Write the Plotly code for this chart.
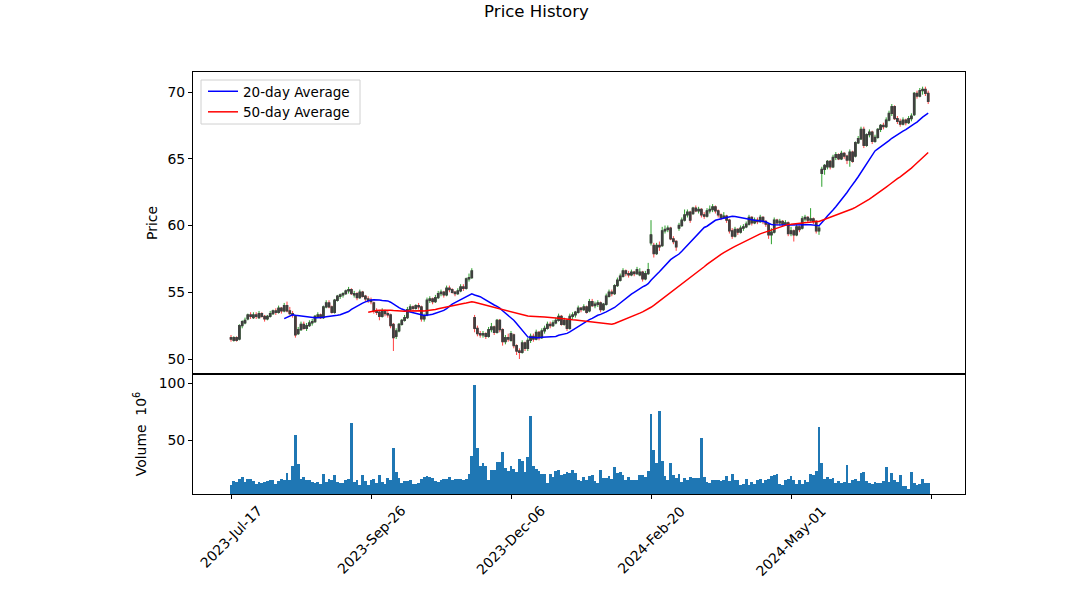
import pandas as pd
import plotly.graph_objects as go

# ---------------- data ----------------
opens = [51.6,51.4,51.6,51.5,52.5,52.7,53.0,53.3,53.1,53.3,53.1,53.4,53.2,53.0,53.2,53.4,53.6,53.5,53.8,53.6,
54.0,53.6,53.4,53.2,51.9,52.2,52.6,52.3,52.5,52.7,52.8,53.2,53.3,53.1,53.9,54.2,53.9,53.5,54.4,54.7,
54.8,54.9,55.1,55.2,54.8,54.9,54.6,55.0,54.7,54.5,54.4,54.2,53.6,53.5,53.2,53.6,53.4,53.3,52.6,51.7,
52.1,52.6,52.9,53.1,53.7,53.9,53.8,54.0,53.9,53.0,53.3,54.4,54.5,54.3,54.6,54.9,55.0,54.8,55.3,55.2,
55.0,54.9,55.1,55.4,55.3,56.0,56.1,53.1,52.3,51.9,51.8,51.9,51.7,52.2,52.4,52.0,52.9,52.2,51.3,51.6,
51.4,51.8,51.0,50.6,50.5,51.2,50.8,51.4,51.7,51.5,52.0,51.6,52.1,52.3,52.6,52.5,52.7,52.9,53.2,52.6,
52.9,52.3,53.2,53.3,53.5,53.8,53.7,53.9,53.6,54.3,54.0,54.1,54.2,53.7,54.1,54.7,55.0,54.9,55.5,55.9,
56.2,56.6,56.4,56.3,56.5,56.4,56.3,56.5,56.0,56.4,58.7,58.5,57.9,58.5,58.5,59.6,59.7,59.8,59.0,58.8,
59.8,60.0,60.4,60.8,61.0,60.9,61.3,61.1,61.2,60.8,60.7,61.1,61.2,61.4,61.1,60.8,60.6,60.7,60.4,59.6,
59.2,59.7,59.5,59.8,59.9,60.1,60.6,60.2,60.4,60.3,60.6,60.3,60.1,59.3,59.5,60.4,60.2,60.3,60.1,60.2,
59.4,59.6,59.3,59.9,59.8,60.5,60.6,60.4,60.5,60.3,59.6,63.9,64.2,64.4,64.8,64.4,65.1,65.3,65.0,65.4,
65.2,64.9,65.5,65.2,66.2,66.5,67.2,66.0,66.8,67.0,66.3,66.6,67.2,67.5,67.4,67.9,68.4,68.9,68.0,67.8,
67.6,67.9,67.7,68.0,68.3,69.9,69.7,70.1,70.2,69.9]

highs = [51.8,51.7,51.7,52.6,52.9,53.1,53.4,53.5,53.5,53.5,53.6,53.5,53.3,53.3,53.6,53.7,53.8,54.0,53.9,54.2,
54.3,53.9,53.6,53.3,52.4,52.8,52.8,52.7,52.9,53.0,53.3,53.5,53.4,54.0,54.4,54.4,54.0,54.5,54.8,54.9,
55.0,55.2,55.4,55.3,55.1,55.0,55.2,55.1,54.8,54.7,54.6,54.3,53.8,53.6,53.8,53.7,53.6,53.4,52.7,52.3,
52.7,53.0,53.3,53.9,54.1,54.0,54.1,54.2,54.0,53.4,54.6,54.7,54.6,54.8,55.1,55.2,55.1,55.5,55.5,55.3,
55.1,55.3,55.6,55.6,56.1,56.4,56.8,53.3,52.5,52.1,52.1,52.0,52.4,52.7,52.5,53.0,53.0,52.3,51.8,51.9,
52.1,51.9,51.1,50.8,51.4,51.3,51.6,51.9,51.9,52.2,52.1,52.3,52.5,52.8,52.8,52.9,53.1,53.4,53.3,53.1,
53.0,53.4,53.5,53.6,54.0,53.9,54.1,54.0,54.5,54.5,54.3,54.4,54.3,54.2,54.9,55.2,55.2,55.6,56.1,56.4,
56.8,56.7,56.6,56.7,56.6,56.9,56.8,56.6,56.6,57.2,60.4,58.7,58.7,58.8,59.9,60.0,60.0,59.9,59.2,58.9,
60.2,60.6,61.2,61.2,61.1,61.4,61.5,61.4,61.3,61.0,61.3,61.5,61.6,61.5,61.2,60.9,61.0,60.8,60.5,59.8,
59.9,59.8,60.0,60.1,60.3,60.8,60.7,60.6,60.6,60.8,60.7,60.4,60.2,59.8,60.6,60.5,60.5,60.4,60.4,60.3,
59.9,59.7,60.1,60.0,60.7,60.8,60.7,61.3,60.6,60.4,60.0,64.4,64.6,64.9,64.9,65.3,65.5,65.4,65.6,65.5,
65.3,65.7,65.6,66.3,66.7,67.4,67.4,66.9,67.2,67.1,66.8,67.3,67.6,67.7,68.1,68.6,69.1,69.0,68.2,68.0,
68.1,68.0,68.2,68.4,70.0,70.1,70.3,70.4,70.4,70.1]

lows = [51.3,51.3,51.3,51.4,52.3,52.6,52.9,53.0,53.0,53.0,53.0,53.1,52.8,52.9,53.1,53.3,53.3,53.4,53.4,53.5,
53.5,53.3,53.1,51.6,51.8,52.1,52.2,52.1,52.4,52.5,52.7,53.1,53.0,53.0,53.8,53.8,53.4,53.4,54.3,54.5,
54.6,54.8,54.9,54.8,54.6,54.4,54.5,54.6,54.3,54.2,54.1,53.4,53.3,52.9,53.1,53.2,53.1,52.3,50.6,51.5,
52.0,52.5,52.8,53.0,53.6,53.6,53.7,53.7,52.8,52.8,53.2,54.2,54.1,54.2,54.5,54.7,54.6,54.7,55.0,54.9,
54.7,54.8,55.0,55.1,55.2,55.8,56.0,52.0,51.7,51.6,51.6,51.5,51.6,52.0,51.8,51.9,52.0,51.0,51.1,51.3,
51.3,50.8,50.3,50.0,50.4,50.6,50.6,51.2,51.3,51.4,51.4,51.5,51.9,52.2,52.3,52.4,52.6,52.8,52.5,52.5,
52.1,52.2,53.0,53.1,53.4,53.5,53.6,53.4,53.5,53.9,53.8,53.9,53.5,53.6,54.0,54.6,54.7,54.8,55.4,55.8,
56.1,56.2,56.1,56.2,56.2,56.3,56.2,55.8,55.9,56.3,58.5,57.6,57.8,58.1,58.4,59.4,59.5,58.9,58.6,58.1,
59.6,59.9,60.3,60.6,60.2,60.8,61.0,60.9,60.6,60.5,60.6,60.9,61.0,60.9,60.6,60.4,60.5,60.2,59.4,59.0,
59.1,59.3,59.4,59.6,59.8,60.0,60.0,60.1,60.1,60.2,60.1,59.9,59.0,58.6,59.4,60.0,60.0,59.9,60.0,59.2,
59.2,58.8,59.2,59.5,59.7,60.3,60.2,60.3,60.1,59.4,59.3,62.9,63.8,64.2,64.2,64.3,64.9,64.9,64.9,65.0,
64.6,64.4,64.7,65.1,66.1,66.4,65.8,65.9,66.6,66.1,66.2,66.5,67.0,67.2,67.3,67.8,68.2,67.9,67.6,67.4,
67.5,67.5,67.6,67.8,68.2,69.5,69.6,69.8,69.7,69.1]

closes = [51.5,51.6,51.4,52.5,52.8,52.9,53.3,53.2,53.3,53.2,53.4,53.2,53.0,53.2,53.4,53.6,53.5,53.8,53.6,54.0,
53.6,53.4,53.3,51.8,52.2,52.6,52.3,52.5,52.7,52.8,53.2,53.3,53.1,53.9,54.2,53.9,53.5,54.4,54.7,54.8,
54.9,55.1,55.2,54.9,54.9,54.6,55.0,54.7,54.5,54.4,54.3,53.6,53.5,53.2,53.6,53.4,53.3,52.5,51.6,52.1,
52.6,52.9,53.1,53.7,53.9,53.8,54.0,53.9,53.0,53.2,54.4,54.5,54.3,54.6,54.9,55.0,54.8,55.3,55.2,55.0,
54.9,55.1,55.4,55.3,56.0,56.1,56.6,52.3,51.9,51.8,51.9,51.7,52.2,52.4,52.0,52.9,52.2,51.3,51.6,51.5,
51.9,51.0,50.6,50.5,51.2,50.8,51.4,51.7,51.5,52.0,51.6,52.1,52.3,52.6,52.5,52.7,52.9,53.2,52.6,52.9,
52.3,53.2,53.3,53.5,53.8,53.7,53.9,53.5,54.3,54.0,54.1,54.2,53.7,54.1,54.7,55.0,54.9,55.5,55.9,56.2,
56.6,56.4,56.3,56.5,56.4,56.7,56.5,56.0,56.4,56.7,59.3,57.9,58.5,58.4,59.6,59.7,59.8,59.0,58.8,58.4,
60.0,60.4,60.8,61.0,60.4,61.3,61.1,61.2,60.8,60.7,61.1,61.2,61.4,61.1,60.8,60.6,60.7,60.4,59.6,59.2,
59.7,59.5,59.8,59.9,60.1,60.6,60.2,60.4,60.3,60.6,60.3,60.1,59.3,59.5,60.4,60.2,60.3,60.1,60.2,59.4,
59.6,59.3,59.9,59.7,60.5,60.6,60.4,60.5,60.3,59.6,59.8,64.2,64.5,64.8,64.4,65.1,65.3,65.0,65.4,65.2,
64.9,65.5,64.8,66.2,66.5,67.2,66.0,66.8,67.0,66.3,66.6,67.2,67.5,67.4,67.9,68.4,68.9,68.0,67.8,67.6,
67.9,67.7,68.0,68.2,69.9,69.7,70.1,70.2,69.9,69.3]

volumes = [10.2,13.7,13.1,15.8,17.5,12.9,15.8,15.8,14.0,11.4,13.1,12.3,13.1,14.0,14.9,14.9,11.4,14.0,15.8,14.9,
21.1,14.9,27.2,54.4,29.0,15.8,17.5,14.9,14.9,13.1,12.3,13.1,11.4,20.2,13.1,15.8,14.9,19.3,13.1,12.3,
12.3,14.9,15.8,64.9,13.1,14.9,10.5,19.3,14.0,10.5,14.9,15.8,12.3,19.3,13.1,11.4,16.7,14.9,43.0,21.9,
16.7,12.3,14.0,14.0,14.9,11.4,11.4,12.3,15.8,17.5,18.4,17.5,16.7,14.0,13.1,14.9,15.8,15.8,17.5,14.9,
15.8,15.8,15.8,14.9,15.8,20.2,36.0,98.2,43.0,27.2,29.8,27.2,14.9,23.7,23.7,30.7,30.7,39.5,25.4,22.8,
27.2,25.0,22.0,33.2,31.5,21.9,35.1,71.0,27.2,24.6,22.8,20.2,20.2,12.3,20.2,17.5,22.8,23.7,19.3,20.2,
21.9,21.1,23.7,21.1,14.9,14.0,17.5,14.9,18.4,19.3,14.0,12.3,23.7,16.7,16.7,18.4,15.8,26.3,21.1,21.9,
19.3,14.9,17.5,14.9,14.9,14.9,19.3,19.3,17.5,22.8,72.8,41.2,29.8,75.4,31.5,18.4,14.9,29.8,19.3,16.7,
20.2,13.1,16.7,14.9,17.5,16.7,16.7,16.7,51.7,17.5,13.1,12.3,14.9,14.9,14.9,14.0,14.9,18.4,14.0,20.2,
14.9,14.9,10.5,11.4,15.8,10.5,13.1,11.4,14.9,15.8,12.3,14.9,15.8,18.4,19.3,20.2,11.4,10.5,14.9,15.8,
18.4,14.9,11.4,14.9,11.4,14.9,13.1,20.2,19.3,22.8,61.4,29.8,15.8,17.5,15.8,16.7,12.3,14.0,12.3,13.1,
28.1,12.3,14.9,15.8,14.0,21.1,21.9,14.0,12.3,11.4,13.1,12.3,12.3,14.0,26.3,13.1,21.1,14.9,13.1,19.3,
9.6,9.6,7.0,21.9,12.3,10.5,11.4,15.8,12.3,12.3]

tick_positions = [0, 50, 100, 150, 200, 250]
tick_labels = ["2023-Jul-17", "2023-Sep-26", "2023-Dec-06", "2024-Feb-20", "2024-May-01"]
mav_windows = [20, 50]
mav_colors = ["#0000ff", "#ff0000"]

# ---------------- figure ----------------
df = pd.DataFrame({"Open": opens, "High": highs, "Low": lows, "Close": closes, "Volume": volumes})
idx = list(range(len(df)))
body_hi = df[["Open", "Close"]].max(axis=1)
body_lo = df[["Open", "Close"]].min(axis=1)

FONT = "DejaVu Sans"
fig = go.Figure()

# wicks (coloured)
fig.add_trace(go.Candlestick(
    x=idx, open=df.Open, high=df.High, low=df.Low, close=df.Close,
    increasing=dict(line=dict(color="#2ca02c", width=1), fillcolor="#2ca02c"),
    decreasing=dict(line=dict(color="#ff4040", width=1), fillcolor="#ff4040"),
    whiskerwidth=0, showlegend=False, hoverinfo="skip",
    xaxis="x2", yaxis="y2"))
# bodies (dark)
fig.add_trace(go.Candlestick(
    x=idx, open=df.Open, high=body_hi, low=body_lo, close=df.Close,
    increasing=dict(line=dict(color="#404040", width=1.3), fillcolor="#4a4a4a"),
    decreasing=dict(line=dict(color="#404040", width=1.3), fillcolor="#4a4a4a"),
    whiskerwidth=0, showlegend=False, hoverinfo="skip",
    xaxis="x2", yaxis="y2"))

for w, c in zip(mav_windows, mav_colors):
    ma = df.Close.rolling(w).mean()
    fig.add_trace(go.Scatter(x=idx, y=ma, mode="lines", name=f"{w}-day Average",
                             line=dict(color=c, width=1.5), xaxis="x2", yaxis="y2"))

fig.add_trace(go.Bar(x=idx, y=df.Volume, marker=dict(color="#1f77b4", line=dict(width=0)),
                     width=0.95, showlegend=False, xaxis="x", yaxis="y"))

L, R, T, B = 193, 965, 72, 494
W, H = 1073, 603
split = (B - 374) / (B - T)
xr = [(L - 231) / 2.8, (R - 231) / 2.8]

axis_common = dict(showline=True, linecolor="black", linewidth=1, mirror=True,
                   showgrid=False, zeroline=False,
                   tickfont=dict(family=FONT, size=13.9, color="black"))

# legend frame (matplotlib style box)
fig.add_shape(type="rect", xref="paper", yref="paper",
              x0=(201 - L) / (R - L), x1=(360 - L) / (R - L),
              y0=1 - (124 - T) / (B - T), y1=1 - (80 - T) / (B - T),
              line=dict(color="#d0d0d0", width=1), fillcolor="rgba(255,255,255,0.8)", layer="above")

# x tick labels: rotated 45 degrees, centred on the tick (matplotlib style)
for pos, lab in zip(tick_positions, tick_labels):
    fig.add_annotation(x=pos, y=0, xref="x", yref="paper", text=lab, showarrow=False,
                       textangle=-45, xanchor="center", yanchor="top", yshift=-6,
                       font=dict(family=FONT, size=13.9, color="black"))

fig.update_layout(
    width=W, height=H,
    margin=dict(l=L, r=W - R, t=T, b=H - B),
    paper_bgcolor="white", plot_bgcolor="white",
    font=dict(family=FONT, color="black"),
    title=dict(text="Price History", x=0.5, xanchor="center", y=1 - 11 / H, yanchor="middle",
               font=dict(family=FONT, size=16.6, color="black")),
    bargap=0, boxmode="overlay",
    xaxis=dict(**axis_common, domain=[0, 1], anchor="y", range=xr,
               tickmode="array", tickvals=tick_positions, showticklabels=False,
               ticks="outside", ticklen=4, tickcolor="black",
               rangeslider=dict(visible=False)),
    xaxis2=dict(**axis_common, domain=[0, 1], anchor="y2", range=xr, matches="x",
                showticklabels=False, ticks="", rangeslider=dict(visible=False)),
    yaxis=dict(**axis_common, domain=[0, split], anchor="x",
               range=[(497 - B) / 1.14, (497 - 374) / 1.14],
               tickvals=[50, 100], ticks="outside", ticklen=4, tickcolor="black",
               title=dict(text="Volume  10<sup>6</sup>", standoff=8,
                          font=dict(family=FONT, size=13.9, color="black"))),
    yaxis2=dict(**axis_common, domain=[split, 1], anchor="x2",
                range=[70 - (374 - 92) / 13.35, 70 + (92 - 72) / 13.35],
                tickvals=[50, 55, 60, 65, 70], ticks="outside", ticklen=4, tickcolor="black",
                title=dict(text="Price", standoff=6,
                           font=dict(family=FONT, size=13.9, color="black"))),
    legend=dict(x=(203 - L) / (R - L), y=1 - (76 - T) / (B - T), xanchor="left", yanchor="top",
                bgcolor="rgba(0,0,0,0)", borderwidth=0,
                font=dict(family=FONT, size=13.5, color="black"), tracegroupgap=0),
    showlegend=True,
)

fig.write_html("out.html", config={"displayModeBar": False},
               post_script="document.body.style.margin='0px';")
